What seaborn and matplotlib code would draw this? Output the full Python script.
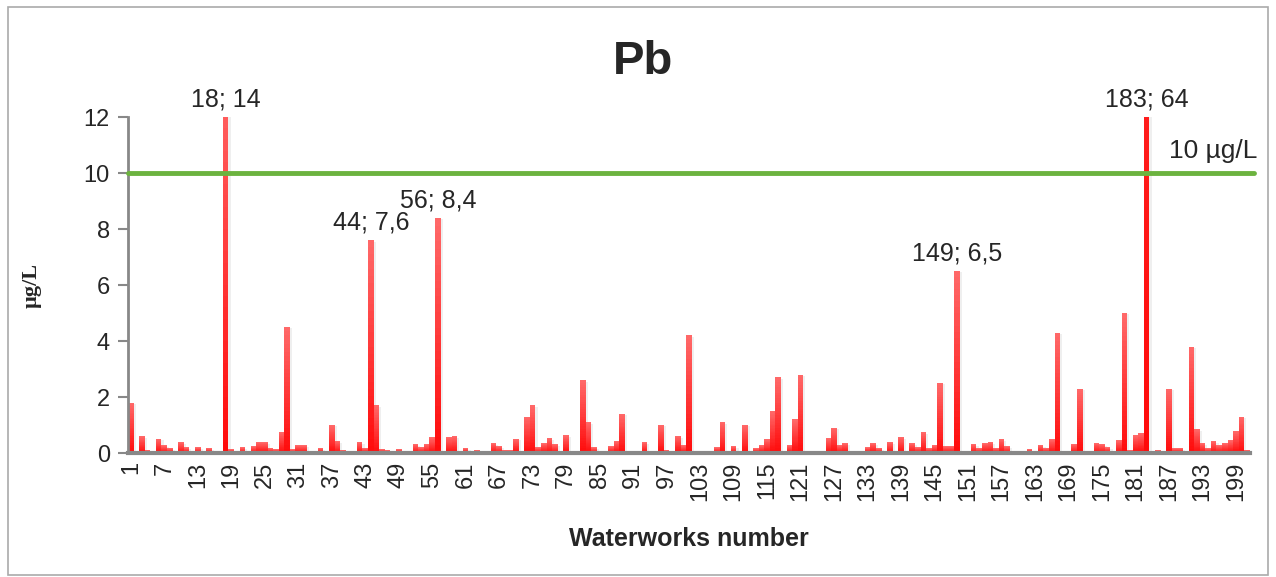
import numpy as np
import pandas as pd
import matplotlib
matplotlib.use("Agg")
import matplotlib.pyplot as plt
import matplotlib.patheffects as pe
from matplotlib.patches import Rectangle
import seaborn as sns

# Pb concentration per waterworks (µg/L)
waterworks = list(range(1, 202))
pb_values = [
    1.8, 0.0, 0.6, 0.1, 0.0, 0.5, 0.27, 0.17, 0.06, 0.38,      # 1-10
    0.2, 0.0, 0.2, 0.04, 0.17, 0.06, 0.02, 14.0, 0.13, 0.06,   # 11-20
    0.2, 0.06, 0.24, 0.38, 0.38, 0.17, 0.13, 0.74, 4.5, 0.13,  # 21-30
    0.27, 0.27, 0.0, 0.0, 0.17, 0.02, 1.0, 0.42, 0.1, 0.02,    # 31-40
    0.06, 0.38, 0.17, 7.6, 1.7, 0.13, 0.1, 0.02, 0.13, 0.0,    # 41-50
    0.06, 0.31, 0.2, 0.31, 0.56, 8.4, 0.0, 0.56, 0.6, 0.0,     # 51-60
    0.17, 0.0, 0.1, 0.02, 0.03, 0.35, 0.24, 0.1, 0.1, 0.5,     # 61-70
    0.02, 1.3, 1.7, 0.2, 0.35, 0.52, 0.31, 0.06, 0.63, 0.0,    # 71-80
    0.02, 2.6, 1.1, 0.2, 0.0, 0.0, 0.24, 0.42, 1.4, 0.0,       # 81-90
    0.06, 0.03, 0.38, 0.06, 0.03, 1.0, 0.1, 0.0, 0.6, 0.27,    # 91-100
    4.2, 0.06, 0.0, 0.06, 0.06, 0.2, 1.1, 0.06, 0.24, 0.0,     # 101-110
    1.0, 0.0, 0.17, 0.27, 0.49, 1.5, 2.7, 0.06, 0.27, 1.2,     # 111-120
    2.8, 0.03, 0.03, 0.0, 0.0, 0.52, 0.9, 0.27, 0.35, 0.03,    # 121-130
    0.06, 0.03, 0.2, 0.35, 0.17, 0.0, 0.38, 0.06, 0.56, 0.03,  # 131-140
    0.35, 0.2, 0.74, 0.17, 0.27, 2.5, 0.24, 0.24, 6.5, 0.06,   # 141-150
    0.0, 0.31, 0.17, 0.35, 0.38, 0.17, 0.49, 0.24, 0.0, 0.06,  # 151-160
    0.03, 0.13, 0.0, 0.27, 0.17, 0.49, 4.3, 0.0, 0.03, 0.31,   # 161-170
    2.3, 0.03, 0.03, 0.35, 0.31, 0.2, 0.06, 0.45, 5.0, 0.1,    # 171-180
    0.63, 0.7, 64.0, 0.03, 0.1, 0.02, 2.3, 0.17, 0.17, 0.0,    # 181-190
    3.8, 0.85, 0.35, 0.17, 0.42, 0.27, 0.35, 0.45, 0.77, 1.3,  # 191-200
    0.1,                                                       # 201
]
guideline = 10
y_max = 12
labelled = {18: "18; 14", 44: "44; 7,6", 56: "56; 8,4", 149: "149; 6,5", 183: "183; 64"}

df = pd.DataFrame({"waterworks": waterworks, "pb": pb_values})

sns.set_style("white")
plt.rcParams["font.family"] = ["Liberation Sans", "DejaVu Sans"]

fig = plt.figure(figsize=(12.76, 5.77), dpi=100)
ax = fig.add_axes([0.1003, 0.2149, 0.8793, 0.5823])

sns.barplot(data=df, x="waterworks", y="pb", order=waterworks, color="#ff2a2a",
            width=1.0, saturation=1, ax=ax, zorder=1)

# soft shadow on the seaborn bars
for p in ax.patches:
    p.set_edgecolor("none")
    p.set_path_effects([pe.SimplePatchShadow(offset=(1.5, -1), shadow_rgbFace="#999999", alpha=0.15),
                        pe.Normal()])

# vertical gradient drawn as thin slices over each bar (dark red bottom -> light top)
cmap = matplotlib.colors.LinearSegmentedColormap.from_list("bar", ["#ff0a0a", "#ff6a6a"])
vals = np.array(pb_values)
vis = np.minimum(vals, y_max)
n_slices = 30
for j in range(n_slices):
    lo = vis * j / n_slices
    frac = np.where(vals > 0, (lo + vis / n_slices / 2) / np.where(vals > 0, vals, 1), 0)
    ax.bar(np.arange(len(vals)), vis / n_slices, bottom=lo, width=1.0,
           color=cmap(frac), linewidth=0, antialiased=False, zorder=2)

ax.set_xlim(-0.5, len(waterworks) - 0.5)
ax.set_ylim(0, y_max)

ax.axhline(guideline, xmin=0, xmax=1.004, color="#6cb33f", lw=3.5, zorder=3, clip_on=False)
ax.text(1.007, guideline + 0.35, "10 µg/L", transform=ax.get_yaxis_transform(),
        ha="right", va="bottom", fontsize=19)

for num, txt in labelled.items():
    y = min(pb_values[num - 1], y_max)
    ax.text(num - 1, y + 0.2, txt, ha="center", va="bottom", fontsize=18, zorder=4)

ticks = list(range(0, len(waterworks), 6))
ax.set_xticks(ticks)
ax.set_xticklabels([str(waterworks[i]) for i in ticks], rotation=90, fontsize=17)
ax.set_yticks(range(0, y_max + 1, 2))
ax.set_yticklabels([str(v) for v in range(0, y_max + 1, 2)], fontsize=17)
ax.tick_params(axis="x", length=0, pad=6)
ax.tick_params(axis="y", length=7, width=1.5, color="#888888", left=True, pad=6)

for side in ["top", "right"]:
    ax.spines[side].set_visible(False)
ax.spines["left"].set_color("#888888")
ax.spines["left"].set_linewidth(2)
ax.spines["bottom"].set_color("#888888")
ax.spines["bottom"].set_linewidth(3)
ax.spines["bottom"].set_zorder(5)

ax.set_xlabel("Waterworks number", fontsize=18, fontweight="bold", labelpad=19)
ax.set_ylabel("µg/L", fontsize=16, fontweight="bold", family=["Liberation Serif", "DejaVu Serif"],
              labelpad=30)
fig.text(0.504, 0.892, "Pb", ha="center", va="center", fontsize=34, fontweight="bold")

fig.patches.append(Rectangle((0.006, 0.004), 0.988, 0.984, transform=fig.transFigure,
                             fill=False, edgecolor="#aaaaaa", lw=1.2))

fig.savefig("out.png", dpi=100)
